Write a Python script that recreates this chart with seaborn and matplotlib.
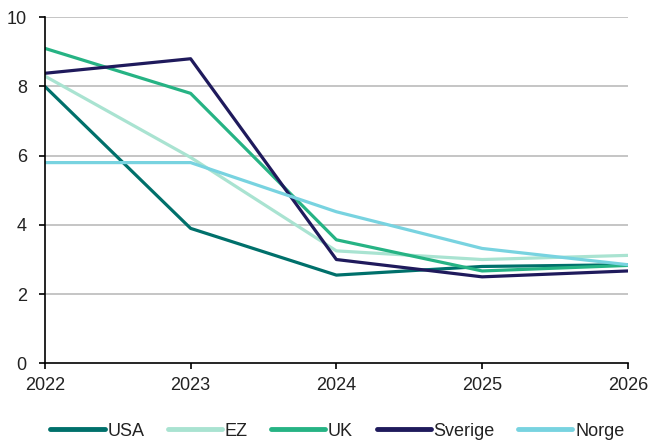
import matplotlib
matplotlib.use("Agg")
import matplotlib.pyplot as plt
import seaborn as sns
import pandas as pd

years = [2022, 2023, 2024, 2025, 2026]
usa = [8.0, 3.9, 2.55, 2.8, 2.85]
ez = [8.3, 5.95, 3.25, 3.0, 3.12]
uk = [9.1, 7.8, 3.57, 2.67, 2.83]
sverige = [8.38, 8.8, 3.0, 2.5, 2.67]
norge = [5.8, 5.8, 4.38, 3.32, 2.85]

series_names = ["USA", "EZ", "UK", "Sverige", "Norge"]
series_values = [usa, ez, uk, sverige, norge]
colors = ["#00706b", "#a9e3d1", "#26b384", "#1f1a5c", "#78d3e0"]

y_ticks = [0, 2, 4, 6, 8, 10]

rows = []
for name, vals in zip(series_names, series_values):
    for yr, v in zip(years, vals):
        rows.append({"year": yr, "value": v, "series": name})
df = pd.DataFrame(rows)

sns.set_theme(style="white")
plt.rcParams["font.family"] = ["Liberation Sans", "DejaVu Sans"]

fig = plt.figure(figsize=(6.5, 4.41), dpi=100)
ax = fig.add_axes([0.069, 0.176, 0.897, 0.785])

for yv in y_ticks[1:]:
    ax.axhline(yv, color="#c0c0c0", lw=1.3, zorder=0)

sns.lineplot(data=df, x="year", y="value", hue="series",
             hue_order=series_names, palette=colors, lw=2.3,
             ax=ax, legend=False, zorder=3)

ax.set_xlim(years[0], years[-1])
ax.set_ylim(0, 10)
ax.set_xticks(years)
ax.set_xticklabels([str(y) for y in years])
ax.set_yticks(y_ticks)
ax.set_yticklabels([str(t) for t in y_ticks])
ax.set_xlabel("")
ax.set_ylabel("")

for side in ["top", "right"]:
    ax.spines[side].set_visible(False)
for side in ["left", "bottom"]:
    ax.spines[side].set_color("black")
    ax.spines[side].set_linewidth(1.2)
    ax.spines[side].set_zorder(4)

ax.tick_params(axis="y", which="major", direction="out", length=4, width=1.2,
               color="black", left=True, pad=9, labelsize=13, labelcolor="#222222")
ax.tick_params(axis="x", which="major", direction="out", length=4, width=1.2,
               color="black", bottom=True, pad=6, labelsize=13, labelcolor="#222222")

handles = [plt.Line2D([0], [0], color=c, lw=3.5, solid_capstyle="round")
           for c in colors]
fig.legend(handles, series_names, loc="center", ncol=5, frameon=False,
           bbox_to_anchor=(0.519, 0.022), fontsize=13, handlelength=3.0,
           handletextpad=0.15, columnspacing=1.3, labelcolor="#222222")

fig.savefig("out.png", dpi=100)
